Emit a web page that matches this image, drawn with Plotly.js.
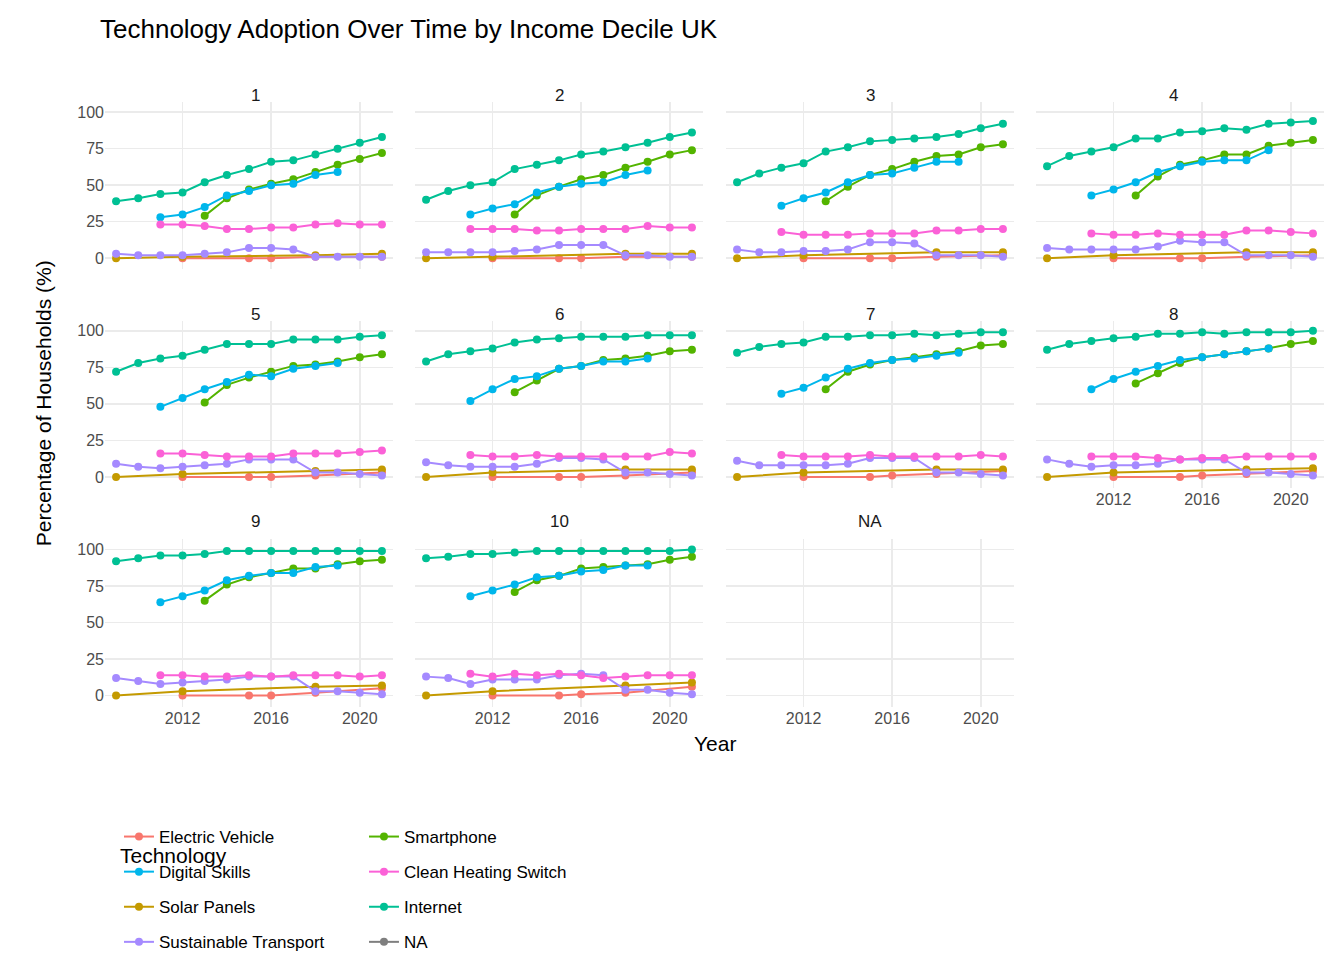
<!DOCTYPE html>
<html>
<head>
<meta charset="utf-8">
<script src="https://cdn.plot.ly/plotly-3.0.1.min.js"></script>
<style>body{margin:0}#chart{width:1344px;height:960px}</style>
</head>
<body>
<div id="chart"></div>
<script>
const panels = ['1', '2', '3', '4', '5', '6', '7', '8', '9', '10', 'NA']

const yearsAll = [2009, 2010, 2011, 2012, 2013, 2014, 2015, 2016, 2017, 2018, 2019, 2020, 2021]
const yearsSkills = [2011, 2012, 2013, 2014, 2015, 2016, 2017, 2018, 2019]
const yearsPhone = [2013, 2014, 2015, 2016, 2017, 2018, 2019, 2020, 2021]
const yearsHeat = [2011, 2012, 2013, 2014, 2015, 2016, 2017, 2018, 2019, 2020, 2021]
const yearsSolar = [2009, 2012, 2018, 2021]
const yearsEv = [2012, 2015, 2016, 2018, 2021]

const internet = [
  [39, 41, 44, 45, 52, 57, 61, 66, 67, 71, 75, 79, 83],
  [40, 46, 50, 52, 61, 64, 67, 71, 73, 76, 79, 83, 86],
  [52, 58, 62, 65, 73, 76, 80, 81, 82, 83, 85, 89, 92],
  [63, 70, 73, 76, 82, 82, 86, 87, 89, 88, 92, 93, 94],
  [72, 78, 81, 83, 87, 91, 91, 91, 94, 94, 94, 96, 97],
  [79, 84, 86, 88, 92, 94, 95, 96, 96, 96, 97, 97, 97],
  [85, 89, 91, 92, 96, 96, 97, 97, 98, 97, 98, 99, 99],
  [87, 91, 93, 95, 96, 98, 98, 99, 98, 99, 99, 99, 100],
  [92, 94, 96, 96, 97, 99, 99, 99, 99, 99, 99, 99, 99],
  [94, 95, 97, 97, 98, 99, 99, 99, 99, 99, 99, 99, 100]
]
const skills = [
  [28, 30, 35, 43, 46, 50, 51, 57, 59],
  [30, 34, 37, 45, 49, 51, 52, 57, 60],
  [36, 41, 45, 52, 57, 58, 62, 66, 66],
  [43, 47, 52, 59, 63, 66, 67, 67, 74],
  [48, 54, 60, 65, 70, 69, 74, 76, 78],
  [52, 60, 67, 69, 74, 76, 79, 79, 81],
  [57, 61, 68, 74, 78, 80, 81, 83, 85],
  [60, 67, 72, 76, 80, 82, 84, 86, 88],
  [64, 68, 72, 79, 82, 84, 84, 88, 89],
  [68, 72, 76, 81, 82, 85, 86, 89, 89]
]
const phone = [
  [29, 41, 47, 51, 54, 59, 64, 68, 72],
  [30, 43, 49, 54, 57, 62, 66, 71, 74],
  [39, 49, 57, 61, 66, 70, 71, 76, 78],
  [43, 56, 64, 67, 71, 71, 77, 79, 81],
  [51, 63, 68, 72, 76, 77, 79, 82, 84],
  [58, 66, 74, 76, 80, 81, 83, 86, 87],
  [60, 72, 77, 80, 82, 84, 86, 90, 91],
  [64, 71, 78, 82, 84, 86, 88, 91, 93],
  [65, 76, 81, 84, 87, 87, 90, 92, 93],
  [71, 79, 82, 87, 88, 89, 90, 93, 95]
]
const heat = [
  [23, 23, 22, 20, 20, 21, 21, 23, 24, 23, 23],
  [20, 20, 20, 19, 19, 20, 20, 20, 22, 21, 21],
  [18, 16, 16, 16, 17, 17, 17, 19, 19, 20, 20],
  [17, 16, 16, 17, 16, 16, 16, 19, 19, 18, 17],
  [16, 16, 15, 14, 14, 14, 16, 16, 16, 17, 18],
  [15, 14, 14, 15, 14, 14, 14, 14, 14, 17, 16],
  [15, 14, 14, 14, 15, 14, 14, 14, 14, 15, 14],
  [14, 14, 14, 13, 12, 13, 13, 14, 14, 14, 14],
  [14, 14, 13, 13, 14, 13, 14, 14, 14, 13, 14],
  [15, 13, 15, 14, 15, 14, 12, 13, 14, 14, 14]
]
const transport = [
  [3, 2, 2, 2, 3, 4, 7, 7, 6, 1, 1, 1, 1],
  [4, 4, 4, 4, 5, 6, 9, 9, 9, 2, 2, 1, 1],
  [6, 4, 4, 5, 5, 6, 11, 11, 10, 2, 2, 2, 1],
  [7, 6, 6, 6, 6, 8, 12, 11, 11, 2, 2, 2, 1],
  [9, 7, 6, 7, 8, 9, 12, 12, 12, 3, 3, 2, 1],
  [10, 8, 7, 7, 7, 9, 13, 13, 12, 3, 3, 2, 1],
  [11, 8, 8, 8, 8, 9, 13, 13, 13, 3, 3, 2, 1],
  [12, 9, 7, 8, 8, 9, 12, 12, 12, 3, 3, 2, 1],
  [12, 10, 8, 9, 10, 11, 13, 13, 13, 3, 3, 2, 1],
  [13, 12, 8, 11, 11, 11, 14, 15, 14, 4, 4, 2, 1]
]
const solar = [
  [0, 1, 2, 3], [0, 1, 3, 3], [0, 2, 4, 4], [0, 2, 4, 4], [0, 2, 4, 5],
  [0, 3, 5, 5], [0, 3, 5, 5], [0, 3, 5, 6], [0, 3, 6, 7], [0, 3, 7, 9]
]
const ev = [
  [0, 0, 0, 1, 1], [0, 0, 0, 1, 1], [0, 0, 0, 1, 2], [0, 0, 0, 1, 2], [0, 0, 0, 1, 3],
  [0, 0, 0, 1, 3], [0, 0, 1, 2, 4], [0, 0, 1, 2, 4], [0, 0, 0, 2, 5], [0, 0, 1, 2, 6]
]

// legend order follows ggplot's 2-row, column-major layout
const series = [
  { name: 'Electric Vehicle', color: '#F8766D', x: yearsEv, y: ev },
  { name: 'Smartphone', color: '#53B400', x: yearsPhone, y: phone },
  { name: 'Digital Skills', color: '#00B6EB', x: yearsSkills, y: skills },
  { name: 'Clean Heating Switch', color: '#FB61D7', x: yearsHeat, y: heat },
  { name: 'Solar Panels', color: '#C49A00', x: yearsSolar, y: solar },
  { name: 'Internet', color: '#00C094', x: yearsAll, y: internet },
  { name: 'Sustainable Transport', color: '#A58AFF', x: yearsAll, y: transport }
]
// drawing order (later on top)
const drawOrder = ['Electric Vehicle', 'Solar Panels', 'Smartphone', 'Internet', 'Digital Skills', 'Sustainable Transport', 'Clean Heating Switch']

const W = 1344
const H = 960
const colX = [[105, 393], [415, 703], [726, 1014], [1036, 1324]]
const rowY = [[103, 272], [324, 493], [545, 714]]
const tickFont = { family: 'Liberation Sans, Arial', size: 16, color: '#4D4D4D' }

const traces = []
const layout = {
  width: W,
  height: H,
  margin: { l: 0, r: 0, t: 0, b: 0 },
  paper_bgcolor: 'white',
  plot_bgcolor: 'white',
  font: { family: 'Liberation Sans, Arial', color: '#000' },
  title: { text: 'Technology Adoption Over Time by Income Decile UK', x: 100 / W, xanchor: 'left', y: 1 - 29 / H, yanchor: 'middle', font: { size: 26, color: '#000' } },
  showlegend: true,
  legend: {
    orientation: 'h',
    x: 282 / W,
    xanchor: 'left',
    y: 1 - 828 / H,
    yanchor: 'top',
    entrywidth: 200,
    font: { size: 17, color: '#000' },
    itemwidth: 30
  },
  annotations: [
    { text: 'Year', xref: 'paper', yref: 'paper', x: 715 / W, y: 1 - 765 / H, showarrow: false, font: { size: 21 } },
    { text: 'Percentage of Households (%)', xref: 'paper', yref: 'paper', x: 30 / W, y: 1 - 408 / H, textangle: -90, showarrow: false, font: { size: 21 } },
    { text: 'Technology', xref: 'paper', yref: 'paper', x: 118 / W, xanchor: 'left', y: 1 - 878 / H, showarrow: false, font: { size: 21 } }
  ]
}

panels.forEach((label, i) => {
  const r = Math.floor(i / 4)
  const c = i % 4
  const n = i + 1
  const xa = 'xaxis' + (n === 1 ? '' : n)
  const ya = 'yaxis' + (n === 1 ? '' : n)
  const bottom = (i + 4 >= panels.length)
  layout[xa] = {
    domain: [colX[c][0] / W, colX[c][1] / W],
    range: [2008.5, 2021.5],
    tickvals: [2012, 2016, 2020],
    showticklabels: bottom,
    tickfont: tickFont,
    gridcolor: '#EBEBEB',
    gridwidth: 1.5,
    zeroline: false,
    showline: false,
    anchor: 'y' + (n === 1 ? '' : n)
  }
  layout[ya] = {
    domain: [1 - rowY[r][1] / H, 1 - rowY[r][0] / H],
    range: [-7.5, 107],
    tickvals: [0, 25, 50, 75, 100],
    showticklabels: c === 0,
    tickfont: tickFont,
    gridcolor: '#EBEBEB',
    gridwidth: 1.5,
    zeroline: false,
    showline: false,
    anchor: 'x' + (n === 1 ? '' : n)
  }
  layout.annotations.push({
    text: label,
    xref: 'paper',
    yref: 'paper',
    x: (colX[c][0] + colX[c][1]) / 2 / W,
    y: 1 - (rowY[r][0] - 18) / H,
    showarrow: false,
    font: { size: 17, color: '#1A1A1A' }
  })
})

// legend-only traces first to fix legend order
series.forEach((s) => {
  traces.push({ x: [null], y: [null], type: 'scatter', mode: 'lines+markers', name: s.name, legendgroup: s.name, line: { color: s.color, width: 2 }, marker: { color: s.color, size: 8 }, showlegend: true })
})
traces.push({ x: [null], y: [null], type: 'scatter', mode: 'lines+markers', name: 'NA', legendgroup: 'NA', line: { color: '#7F7F7F', width: 2 }, marker: { color: '#7F7F7F', size: 8 }, showlegend: true, xaxis: 'x11', yaxis: 'y11' })

for (let d = 0; d < 10; d++) {
  const n = d + 1
  drawOrder.forEach((name) => {
    const s = series.find(t => t.name === name)
    traces.push({
      x: s.x,
      y: s.y[d],
      type: 'scatter',
      mode: 'lines+markers',
      name: s.name,
      legendgroup: s.name,
      showlegend: false,
      line: { color: s.color, width: 2 },
      marker: { color: s.color, size: 8 },
      xaxis: 'x' + (n === 1 ? '' : n),
      yaxis: 'y' + (n === 1 ? '' : n)
    })
  })
}

Plotly.newPlot('chart', traces, layout, { staticPlot: true })
</script>
</body>
</html>
